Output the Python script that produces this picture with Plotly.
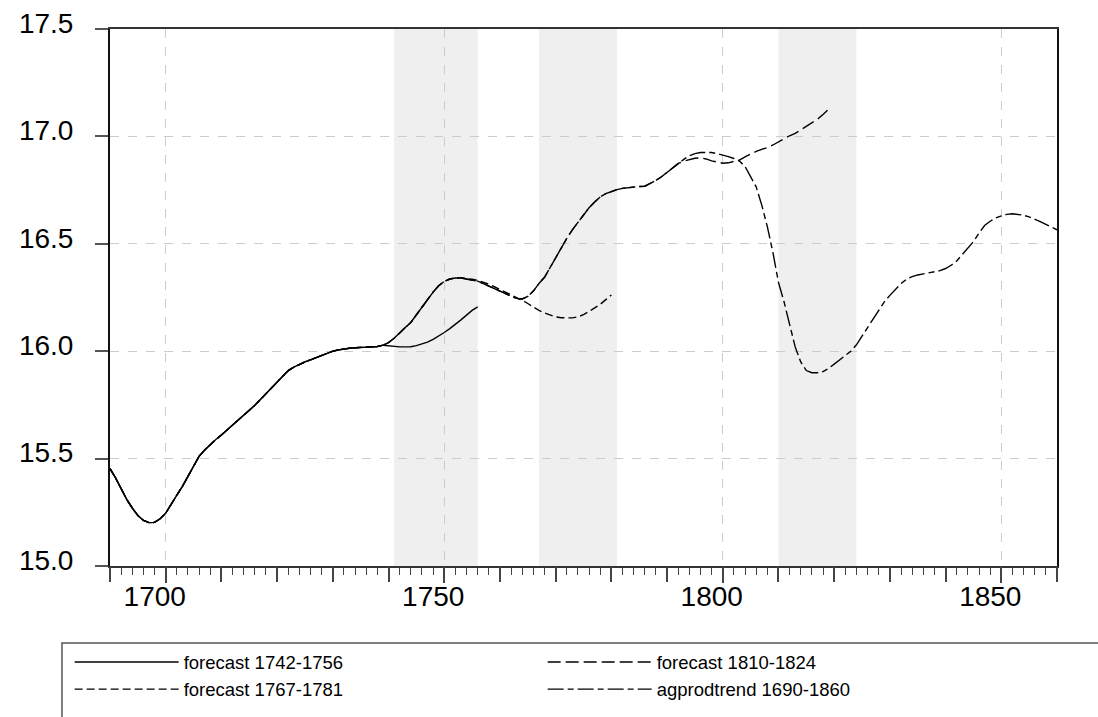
import plotly.graph_objects as go

# Annual series, 1690-1860
years = list(range(1690, 1861))

agprodtrend = [
    15.453, 15.41, 15.36, 15.31, 15.27, 15.235, 15.212, 15.202, 15.203, 15.22,    # 1690s
    15.246, 15.29, 15.33, 15.371, 15.42, 15.465, 15.511, 15.54, 15.567, 15.589,   # 1700s
    15.61, 15.633, 15.654, 15.675, 15.698, 15.721, 15.748, 15.775, 15.802, 15.83, # 1710s
    15.86, 15.888, 15.91, 15.926, 15.939, 15.95, 15.96, 15.97, 15.98, 15.99,      # 1720s
    16.0, 16.006, 16.011, 16.014, 16.016, 16.017, 16.017, 16.018, 16.022, 16.028, # 1730s
    16.04, 16.06, 16.087, 16.11, 16.134, 16.17, 16.207, 16.243, 16.275, 16.305,   # 1740s
    16.325, 16.336, 16.341, 16.341, 16.337, 16.331, 16.326, 16.315, 16.304, 16.293,  # 1750s
    16.28, 16.268, 16.256, 16.246, 16.243, 16.255, 16.28, 16.315, 16.344, 16.39,  # 1760s
    16.44, 16.485, 16.525, 16.565, 16.601, 16.635, 16.668, 16.695, 16.718, 16.734,  # 1770s
    16.744, 16.752, 16.758, 16.762, 16.765, 16.767, 16.768, 16.78, 16.795, 16.812,  # 1780s
    16.833, 16.853, 16.874, 16.893, 16.91, 16.92, 16.925, 16.925, 16.925, 16.92,  # 1790s
    16.914, 16.906, 16.897, 16.885, 16.86, 16.815, 16.765, 16.68, 16.58, 16.46,   # 1800s
    16.32, 16.23, 16.12, 16.02, 15.95, 15.91, 15.9, 15.9, 15.905, 15.92,          # 1810s
    15.94, 15.96, 15.98, 16.0, 16.03, 16.07, 16.11, 16.15, 16.19, 16.23,          # 1820s
    16.26, 16.29, 16.315, 16.335, 16.347, 16.355, 16.36, 16.365, 16.37, 16.375,   # 1830s
    16.385, 16.4, 16.42, 16.45, 16.48, 16.51, 16.55, 16.585, 16.605, 16.62,       # 1840s
    16.63, 16.637, 16.64, 16.638, 16.633, 16.625, 16.615, 16.603, 16.59, 16.578,  # 1850s
    16.565,                                                                       # 1860
]

# Forecast paths: each follows the actual series up to the year before it starts
fc1742_start = 1740
fc1742 = [16.025, 16.022, 16.02, 16.02, 16.021, 16.026, 16.033, 16.042, 16.055,
          16.07, 16.087, 16.105, 16.124, 16.146, 16.168, 16.19, 16.206]          # 1740-1756

fc1767_start = 1753
fc1767 = [16.342, 16.34, 16.335, 16.33, 16.322, 16.312, 16.3, 16.288, 16.275,
          16.262, 16.25, 16.237, 16.222, 16.205, 16.19, 16.178, 16.168, 16.16,
          16.156, 16.154, 16.155, 16.16, 16.17, 16.185, 16.2, 16.218, 16.24, 16.262]  # 1753-1780

fc1810_start = 1793
fc1810 = [16.885, 16.893, 16.898, 16.9, 16.895, 16.886, 16.879, 16.875, 16.877,
          16.882, 16.89, 16.905, 16.918, 16.93, 16.94, 16.948, 16.96, 16.975,
          16.99, 17.003, 17.014, 17.03, 17.045, 17.062, 17.08, 17.102, 17.127]  # 1793-1819

# Shaded forecast windows
shade_start = [1741, 1767, 1810]
shade_end = [1756, 1781, 1824]

y_ticks = [15.0, 15.5, 16.0, 16.5, 17.0, 17.5]


def with_history(start, values):
    n_hist = start - years[0]
    return years[:n_hist + len(values)], agprodtrend[:n_hist] + values


fig = go.Figure()

for s, e in zip(shade_start, shade_end):
    fig.add_vrect(x0=s, x1=e, fillcolor="#efefef", line_width=0, layer="below")

line_w = 1.4
series = [
    ("forecast 1742-1756", fc1742_start, fc1742, "solid"),
    ("forecast 1810-1824", fc1810_start, fc1810, "13px,5px"),
    ("forecast 1767-1781", fc1767_start, fc1767, "8px,4px"),
]
for name, start, vals, dash in series:
    xs, ys = with_history(start, vals)
    fig.add_trace(go.Scatter(x=xs, y=ys, mode="lines", name=name,
                             line=dict(color="black", width=line_w, dash=dash),
                             hoverinfo="skip"))

fig.add_trace(go.Scatter(x=years, y=agprodtrend, mode="lines", name="agprodtrend 1690-1860",
                         line=dict(color="black", width=line_w, dash="16px,4px,6px,4px"),
                         hoverinfo="skip"))

# carrier for the secondary tick axis (decade ticks)
fig.add_trace(go.Scatter(x=years, y=[None] * len(years), xaxis="x2", mode="lines",
                         showlegend=False, hoverinfo="skip"))

tick_font = dict(family="Liberation Sans, Arial, sans-serif", size=28, color="black")

fig.update_layout(
    width=1098, height=717,
    margin=dict(l=110, r=41, t=29, b=151, autoexpand=False),
    plot_bgcolor="white", paper_bgcolor="white",
    xaxis=dict(
        range=[years[0], years[-1]], tickmode="linear", tick0=1700, dtick=50,
        ticks="outside", ticklen=15, tickwidth=1.5, tickcolor="#444",
        showgrid=True, gridcolor="#cccccc", griddash="dash", gridwidth=1,
        showline=True, linecolor="#333", linewidth=2, mirror=True, zeroline=False,
        tickfont=tick_font, ticklabelshift=-11, ticklabelstandoff=-11,
        minor=dict(tick0=1690, dtick=2, ticks="outside", ticklen=7,
                   tickcolor="#444", tickwidth=1.2, showgrid=False),
    ),
    xaxis2=dict(
        overlaying="x", anchor="y", side="bottom",
        range=[years[0], years[-1]], tickmode="linear", tick0=1690, dtick=10,
        ticks="outside", ticklen=15, tickwidth=1.5, tickcolor="#444",
        showticklabels=False, showgrid=False, showline=False, zeroline=False,
    ),
    yaxis=dict(
        range=[y_ticks[0], y_ticks[-1]], tickmode="array", tickvals=y_ticks,
        tickformat=".1f", ticks="outside", ticklen=13, tickwidth=1.5, tickcolor="#555",
        showgrid=True, gridcolor="#cccccc", griddash="dash", gridwidth=1,
        showline=True, linecolor="#111", linewidth=2, mirror=True, zeroline=False,
        tickfont=tick_font, ticklabelstandoff=16, ticklabelshift=-6,
    ),
    legend=dict(
        orientation="h", x=-0.0426, y=-0.1444, xanchor="left", yanchor="top",
        font=dict(family="Liberation Sans, Arial, sans-serif", size=18.5, color="black"),
        itemwidth=104, entrywidth=354, bgcolor="rgba(0,0,0,0)", borderwidth=0,
        traceorder="normal",
    ),
    showlegend=True,
)

# legend frame
fig.add_shape(type="rect", xref="paper", yref="paper",
              x0=-0.0507, x1=1.2, y0=-0.1434, y1=-0.5,
              line=dict(color="#555", width=1.5), fillcolor="rgba(0,0,0,0)")

fig.write_html("out.html")
